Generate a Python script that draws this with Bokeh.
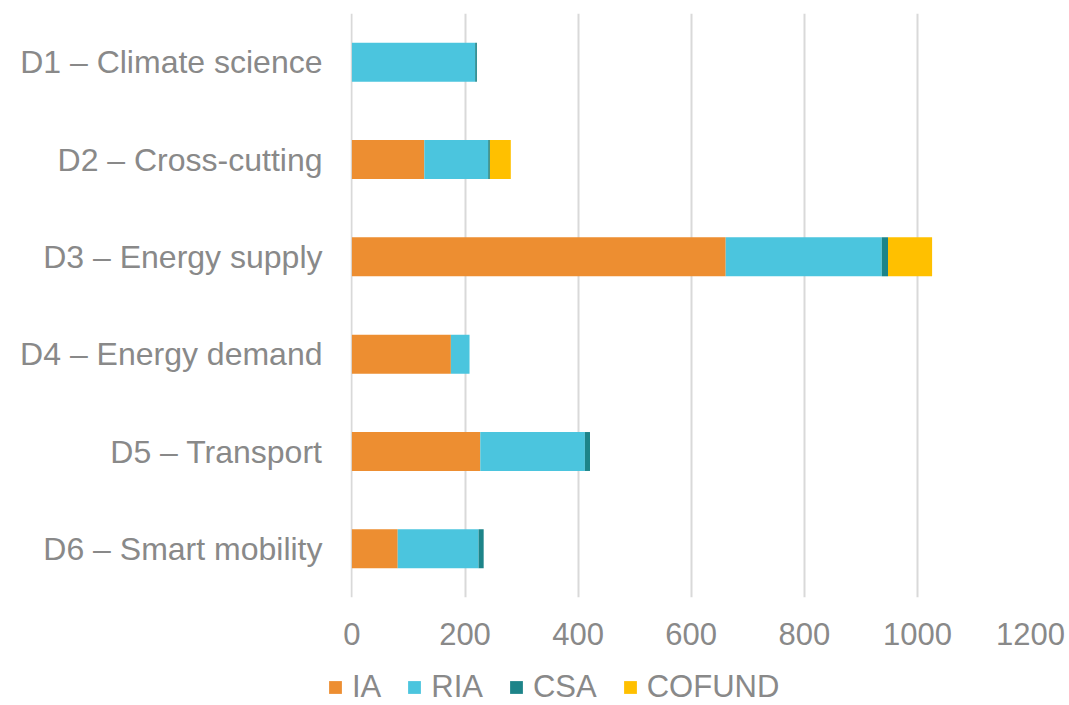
from bokeh.plotting import figure
from bokeh.layouts import column
from bokeh.models import ColumnDataSource, FactorRange, Range1d, Legend, LegendItem, FixedTicker
from bokeh.embed import file_html
from bokeh.resources import INLINE

categories = ["D1 – Climate science", "D2 – Cross-cutting", "D3 – Energy supply",
              "D4 – Energy demand", "D5 – Transport", "D6 – Smart mobility"]
series = ["IA", "RIA", "CSA", "COFUND"]
IA = [0, 128, 661, 175, 227, 81]
RIA = [218, 113, 276, 33, 185, 143]
CSA = [3, 3, 11, 0, 9, 9]
COFUND = [0, 37, 78, 0, 0, 0]
colors = ["#ED8E31", "#4BC5DE", "#1D8489", "#FFC000"]
x_ticks = [0, 200, 400, 600, 800, 1000, 1200]

src = ColumnDataSource(dict(cat=categories, IA=IA, RIA=RIA, CSA=CSA, COFUND=COFUND))

FONT = "Liberation Sans"
GREY = "#898989"

p = figure(width=1069, height=665, output_backend="svg", toolbar_location=None,
           y_range=FactorRange(factors=list(reversed(categories))),
           x_range=Range1d(-2.5, 1200),
           min_border_left=350, min_border_right=39, min_border_top=13, min_border_bottom=68)
p.outline_line_color = None
p.frame_align = False

p.hbar_stack(series, y="cat", height=0.4, color=colors, source=src, line_width=0)

p.xaxis.ticker = FixedTicker(ticks=x_ticks)
p.xaxis.axis_line_color = None
p.xaxis.major_tick_line_color = None
p.xaxis.minor_tick_line_color = None
p.xaxis.major_label_text_font = FONT
p.xaxis.major_label_text_font_size = "31px"
p.xaxis.major_label_text_color = GREY
p.xaxis.major_label_standoff = 19

p.yaxis.axis_line_color = None
p.yaxis.major_tick_line_color = None
p.yaxis.major_label_text_font = FONT
p.yaxis.major_label_text_font_size = "32px"
p.yaxis.major_label_text_color = GREY
p.yaxis.major_label_standoff = 22

p.ygrid.grid_line_color = None
p.xgrid.grid_line_color = "#D9D9D9"
p.xgrid.grid_line_width = 2
p.xgrid.ticker = FixedTicker(ticks=x_ticks)

# legend strip below the chart (its bars are zero-height and out of range; only swatches show)
leg = figure(width=1069, height=40, output_backend="svg", toolbar_location=None,
             y_range=FactorRange(factors=list(reversed(categories))),
             x_range=Range1d(50000, 60000), x_axis_type=None, y_axis_type=None,
             min_border_left=0, min_border_right=0, min_border_top=0, min_border_bottom=0)
leg.outline_line_color = None
leg.grid.grid_line_color = None
leg.frame_align = False
dummy = leg.hbar_stack(series, y="cat", height=0.0, color=colors, source=src, line_width=0)

legend = Legend(items=[LegendItem(label=s, renderers=[r]) for s, r in zip(series, dummy)],
                orientation="horizontal", location=(327, 0),
                label_text_font=FONT, label_text_font_size="31px", label_text_color=GREY,
                glyph_width=16, glyph_height=16, label_standoff=9, spacing=25,
                padding=0, margin=0, border_line_color=None, background_fill_alpha=0)
leg.add_layout(legend, "center")

layout = column(p, leg, spacing=0)
open("out.html", "w").write(file_html(layout, INLINE))
